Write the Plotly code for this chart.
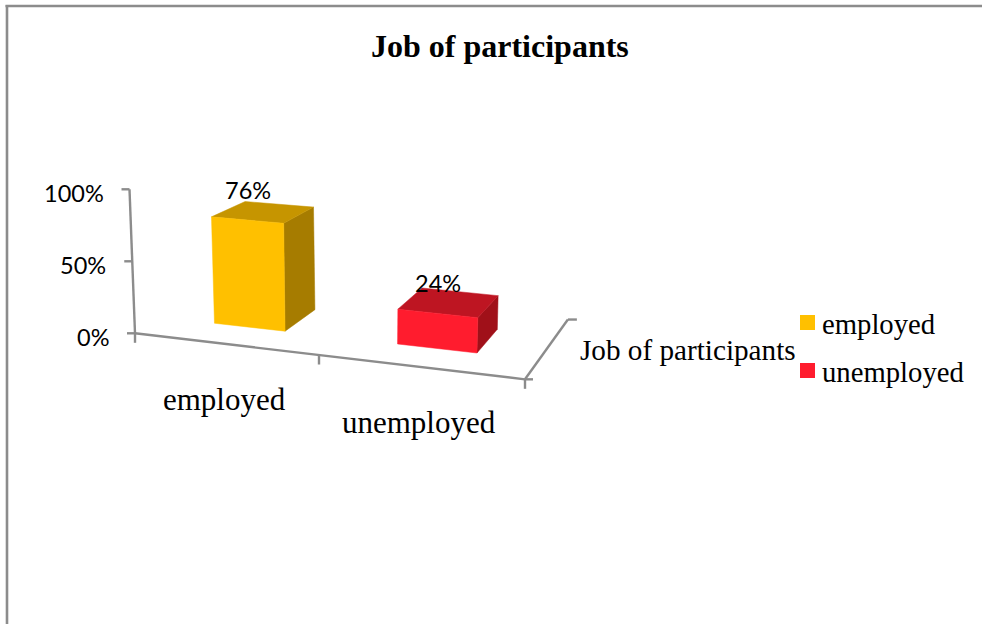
import plotly.graph_objects as go

# Chart content
title = "Job of participants"
series_name = "Job of participants"
categories = ["employed", "unemployed"]
values = [76, 24]
value_ticks = [0, 50, 100]
front_colors = ["#FFC000", "#FF1C2E"]
top_colors = ["#C69500", "#BE1522"]
side_colors = ["#A67C00", "#A01019"]

AXIS_GREY = "#8C8C8C"
SERIF = "Liberation Serif"
SANS = "Lato"
BAR_HALF_WIDTH = 0.2
BAR_FRONT, BAR_BACK = 0.79, 1.79
DEPTH_END = 2.45


def project(u, d, pct):
    """Oblique perspective: category position u, depth d, value in percent -> plot coordinates."""
    v = pct / 100
    run = 173 * u + 11 * u * u
    x = 135 + run + d * (36.5 - 9.5 * u) + (-5.5 + 5.2 * u) * v
    y = 333.3 + 0.118 * run + d * (-20 - 2.2 * u + 7 * v) - (144 + 5 * u) * v
    return x, y


def polygon(points, color):
    xs, ys = zip(*points)
    return go.Scatter(
        x=list(xs) + [xs[0]], y=list(ys) + [ys[0]], mode="lines", fill="toself",
        fillcolor=color, line=dict(color=color, width=0.5),
        hoverinfo="skip", showlegend=False,
    )


def segment(p, q):
    return go.Scatter(
        x=[p[0], q[0]], y=[p[1], q[1]], mode="lines",
        line=dict(color=AXIS_GREY, width=2.4), hoverinfo="skip", showlegend=False,
    )


def label(x, y, text, size, family=SERIF, anchor="center", bold=False):
    return dict(
        x=x, y=y, text=f"<b>{text}</b>" if bold else text, showarrow=False,
        xanchor=anchor, yanchor="middle",
        font=dict(family=family, size=size, color="#000000"),
    )


fig = go.Figure()
notes = []

# Axis frame: value axis, category floor edge and depth edge
fig.add_trace(segment(project(0, 0, 0), project(0, 0, 100)))
fig.add_trace(segment(project(0, 0, 0), project(2, 0, 0)))
fig.add_trace(segment(project(2, 0, 0), project(2, DEPTH_END, 0)))

for pct in value_ticks:
    x, y = project(0, 0, pct)
    fig.add_trace(segment((x, y), (x - 8, y)))
    notes.append(label(x - 24, y + 3.5, f"{pct}%", 23.5, SANS, "right"))

for u in range(3):
    x, y = project(u, 0, 0)
    fig.add_trace(segment((x, y), (x, y + 9.5)))

x, y = project(2, 0, 0)
fig.add_trace(segment((x, y), (x + 8, y)))
x, y = project(2, DEPTH_END, 0)
fig.add_trace(segment((x, y), (x + 9, y)))

# Bars: side, top, then front face
for i, (name, value) in enumerate(zip(categories, values)):
    mid = i + 0.5
    lo, hi = mid - BAR_HALF_WIDTH, mid + BAR_HALF_WIDTH
    fig.add_trace(polygon([
        project(hi, BAR_FRONT, 0), project(hi, BAR_BACK, 0),
        project(hi, BAR_BACK, value), project(hi, BAR_FRONT, value),
    ], side_colors[i]))
    fig.add_trace(polygon([
        project(lo, BAR_FRONT, value), project(hi, BAR_FRONT, value),
        project(hi, BAR_BACK, value), project(lo, BAR_BACK, value),
    ], top_colors[i]))
    fig.add_trace(polygon([
        project(lo, BAR_FRONT, 0), project(hi, BAR_FRONT, 0),
        project(hi, BAR_FRONT, value), project(lo, BAR_FRONT, value),
    ], front_colors[i]))

    x, y = project(mid, BAR_FRONT, value)
    notes.append(label(x + 1, y - 30, f"{value}%", 23.5, SANS))
    x, y = project(mid, 0, 0)
    notes.append(label(x, y + 56, name, 31))

# Series name beside the depth edge
x, y = project(2, DEPTH_END / 2, 0)
notes.append(label(x + 31.5, y + 1, series_name, 29.2, anchor="left"))

# Legend
legend_y = [322.5, 370.5]
fig.add_trace(go.Scatter(
    x=[807.5] * len(categories), y=legend_y, mode="markers",
    marker=dict(symbol="square", size=15, color=front_colors, line=dict(width=0)),
    hoverinfo="skip", showlegend=False,
))
for name, y in zip(categories, legend_y):
    notes.append(label(819.5, y + 1, name, 28.7, anchor="left"))

notes.append(label(499.5, 46, title, 32, bold=True))

fig.update_layout(
    width=982, height=624, margin=dict(l=0, r=0, t=0, b=0),
    paper_bgcolor="white", plot_bgcolor="white", showlegend=False,
    xaxis=dict(range=[0, 982], visible=False, fixedrange=True),
    yaxis=dict(range=[624, 0], visible=False, fixedrange=True),
    annotations=notes,
    shapes=[
        dict(type="line", x0=5.5, x1=982, y0=6, y1=6, line=dict(color=AXIS_GREY, width=2.4)),
        dict(type="line", x0=7, x1=7, y0=5, y1=624, line=dict(color=AXIS_GREY, width=2.6)),
    ],
)

fig.write_html("out.html", config=dict(displayModeBar=False))
